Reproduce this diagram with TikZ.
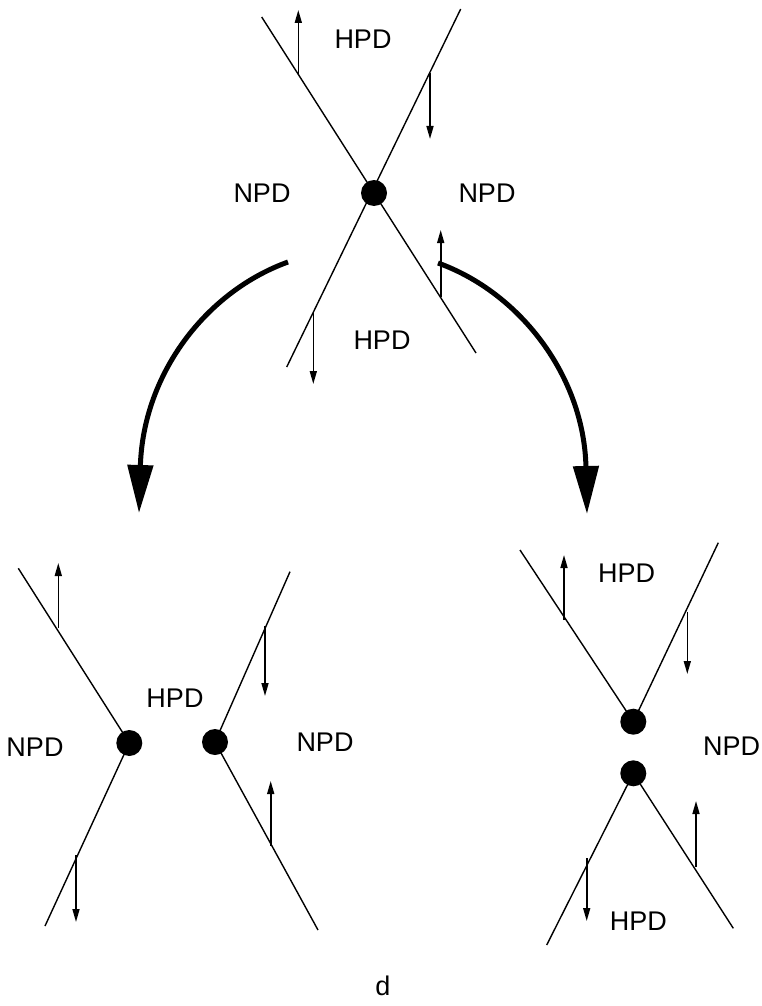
\documentclass[tikz,border=0pt]{standalone}
\usepackage{fontspec}
\setmainfont{Liberation Sans}
\usetikzlibrary{arrows.meta}
\begin{document}
\begin{tikzpicture}[x=1pt,y=-1pt,
  thinline/.style={line width=1.4pt},
  smallarrow/.style={line width=1.6pt,-{Triangle[width=7pt,length=13pt]}},
  bigarrow/.style={line width=5pt,-{Triangle[width=25pt,length=48pt]}},
  dot/.style={circle,fill=black,inner sep=0pt,minimum size=26pt},
  lbl/.style={font=\fontsize{27}{30}\selectfont,inner sep=0pt}]
\useasboundingbox (0,0) rectangle (761,1006);
% ---------- top diagram ----------
\coordinate (tA1) at (261.7,17);
\coordinate (tA2) at (476,353);
\coordinate (tB1) at (460.7,9);
\coordinate (tB2) at (286.7,367);
\draw[thinline] (tA1) -- (tA2);
\draw[thinline] (tB1) -- (tB2);
\node[dot] (t) at (374,193) {};
\coordinate (ta1s) at (298.3,74); \coordinate (ta1e) at (298.3,10);
\coordinate (ta2s) at (430,73);   \coordinate (ta2e) at (430,139);
\coordinate (ta3s) at (440.7,297); \coordinate (ta3e) at (440.7,230);
\coordinate (ta4s) at (313.3,313); \coordinate (ta4e) at (313.3,384);
\draw[smallarrow] (ta1s) -- (ta1e);
\draw[smallarrow] (ta2s) -- (ta2e);
\draw[smallarrow] (ta3s) -- (ta3e);
\draw[smallarrow] (ta4s) -- (ta4e);
\node[lbl] (tH1) at (363,39) {HPD};
\node[lbl] (tN1) at (262,193) {NPD};
\node[lbl] (tN2) at (487,193) {NPD};
\node[lbl] (tH2) at (382,340) {HPD};
% ---------- curved arrows ----------
\coordinate (cl0) at (288,262); \coordinate (cl1) at (139,513);
\coordinate (cr0) at (438,263); \coordinate (cr1) at (587,514);
\draw[bigarrow] (cl0) .. controls (205,292) and (143,375) .. (cl1);
\draw[bigarrow] (cr0) .. controls (521,293) and (584,377) .. (cr1);
% ---------- bottom-left diagram ----------
\coordinate (l1c) at (129.3,743);
\coordinate (l2c) at (215,742);
\coordinate (lA) at (18.3,568.3);
\coordinate (lB) at (45,926);
\coordinate (lC) at (290,571.7);
\coordinate (lD) at (318,930);
\draw[thinline] (lA) -- (l1c) -- (lB);
\draw[thinline] (lC) -- (l2c) -- (lD);
\node[dot] (l1) at (l1c) {};
\node[dot] (l2) at (l2c) {};
\coordinate (la1s) at (58.3,628); \coordinate (la1e) at (58.3,563);
\coordinate (la2s) at (265,626);  \coordinate (la2e) at (265,696);
\coordinate (la3s) at (270.7,846); \coordinate (la3e) at (270.7,781);
\coordinate (la4s) at (76,855);   \coordinate (la4e) at (76,922);
\draw[smallarrow] (la1s) -- (la1e);
\draw[smallarrow] (la2s) -- (la2e);
\draw[smallarrow] (la3s) -- (la3e);
\draw[smallarrow] (la4s) -- (la4e);
\node[lbl] (lH) at (175,698) {HPD};
\node[lbl] (lN1) at (35,747) {NPD};
\node[lbl] (lN2) at (325,742) {NPD};
% ---------- bottom-right diagram ----------
\coordinate (rA) at (520,550);
\coordinate (rB) at (718.3,542.7);
\coordinate (rC) at (546.7,945);
\coordinate (rD) at (733.3,928.3);
\coordinate (r1c) at (633.3,721.7);
\coordinate (r2c) at (633.3,773.3);
\draw[thinline] (rA) -- (r1c) -- (rB);
\draw[thinline] (rC) -- (r2c) -- (rD);
\node[dot] (r1) at (r1c) {};
\node[dot] (r2) at (r2c) {};
\coordinate (ra1s) at (564,620);   \coordinate (ra1e) at (564,555);
\coordinate (ra2s) at (687.3,612); \coordinate (ra2e) at (687.3,674);
\coordinate (ra3s) at (696,867);   \coordinate (ra3e) at (696,801);
\coordinate (ra4s) at (586.7,858); \coordinate (ra4e) at (586.7,921);
\draw[smallarrow] (ra1s) -- (ra1e);
\draw[smallarrow] (ra2s) -- (ra2e);
\draw[smallarrow] (ra3s) -- (ra3e);
\draw[smallarrow] (ra4s) -- (ra4e);
\node[lbl] (rH1) at (626.7,573.3) {HPD};
\node[lbl] (rN) at (731.7,746.7) {NPD};
\node[lbl] (rH2) at (638.3,921.7) {HPD};
% ---------- caption ----------
\node[lbl] (cap) at (383,986) {d};
\end{tikzpicture}
\end{document}
